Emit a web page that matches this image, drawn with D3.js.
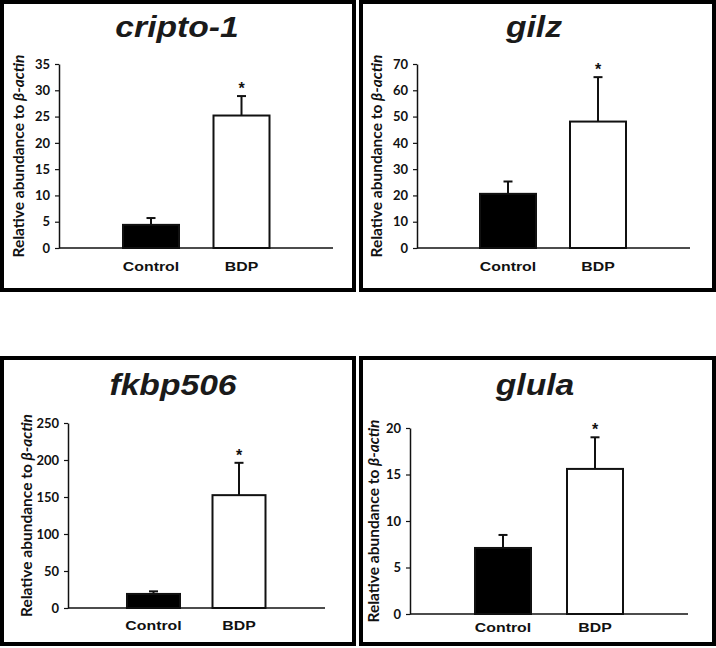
<!DOCTYPE html>
<html>
<head>
<meta charset="utf-8">
<script src="https://cdn.jsdelivr.net/npm/d3@7"></script>
<style>
  html, body { margin: 0; padding: 0; background: #fff; }
  svg { display: block; }
</style>
</head>
<body>
<svg id="chart" width="716" height="648"></svg>
<script>
// ---- data ----
const genes = ["cripto-1", "gilz", "fkbp506", "glula"];
const categories = ["Control", "BDP"];
const controlMean = [4.4, 20.6, 19, 7.1];
const controlSem  = [1.3, 4.7, 3.5, 1.4];
const bdpMean     = [25.2, 48.1, 152.5, 15.6];
const bdpSem      = [3.7, 16.9, 43.7, 3.4];
const yMaxes      = [35, 70, 250, 20];
const yStepSizes  = [5, 10, 50, 5];
const significance = ["*", "*", "*", "*"];
const yLabelMain = "Relative abundance to ";
const yLabelItalic = "β-actin";

// ---- layout (per panel) ----
const layout = [
  { frame: [0, 0, 356, 292],   axisX: 59,  yTop: 64,  yZero: 248, xEnd: 333, centers: [151, 241.5], barW: 56, titleX: 177, titleY: 37,  labelX: 18,  catY: 271 },
  { frame: [359, 0, 716, 292], axisX: 417, yTop: 64,  yZero: 248, xEnd: 690, centers: [508, 598],   barW: 56, titleX: 534, titleY: 37,  labelX: 376, catY: 271 },
  { frame: [0, 356, 356, 646], axisX: 68,  yTop: 423, yZero: 608, xEnd: 325, centers: [153.5, 239], barW: 53, titleX: 173, titleY: 395, labelX: 25.5, catY: 630 },
  { frame: [359, 356, 716, 646], axisX: 410, yTop: 428, yZero: 614, xEnd: 688, centers: [503, 595], barW: 56, titleX: 535, titleY: 395, labelX: 373, catY: 632 }
];

const svg = d3.select("#chart");
const ink = "#111";
const fills = ["#000", "#fff"];

genes.forEach((gene, i) => {
  const L = layout[i];
  const g = svg.append("g");
  const bw = 4;
  // frame
  g.append("rect")
    .attr("x", L.frame[0] + bw / 2).attr("y", L.frame[1] + bw / 2)
    .attr("width", L.frame[2] - L.frame[0] - bw).attr("height", L.frame[3] - L.frame[1] - bw)
    .attr("fill", "#fff").attr("stroke", "#000").attr("stroke-width", bw);

  // title
  g.append("text")
    .attr("transform", `translate(${L.titleX},${L.titleY}) scale(1.16,1)`)
    .attr("text-anchor", "middle")
    .style("font-family", "'Liberation Sans', Arial, sans-serif")
    .style("font-weight", "bold").style("font-style", "italic")
    .style("font-size", "29px").attr("fill", "#1a1a1a")
    .text(gene);

  // scales
  const y = d3.scaleLinear().domain([0, yMaxes[i]]).range([L.yZero, L.yTop]);
  const step = L.centers[1] - L.centers[0];
  const pI = 1 - L.barW / step;
  const x = d3.scaleBand().domain(categories)
    .range([L.centers[0] - step / 2, L.centers[1] + step / 2])
    .paddingInner(pI).paddingOuter(pI / 2);

  const means = [controlMean[i], bdpMean[i]];
  const sems = [controlSem[i], bdpSem[i]];
  const rows = categories.map((c, k) => ({ cat: c, mean: means[k], sem: sems[k], fill: fills[k] }));

  // error bars (upper only)
  const capW = 9;
  rows.forEach(d => {
    const cx = x(d.cat) + x.bandwidth() / 2;
    g.append("line").attr("x1", cx).attr("x2", cx)
      .attr("y1", y(d.mean)).attr("y2", y(d.mean + d.sem))
      .attr("stroke", ink).attr("stroke-width", 2);
    g.append("line").attr("x1", cx - capW / 2).attr("x2", cx + capW / 2)
      .attr("y1", y(d.mean + d.sem)).attr("y2", y(d.mean + d.sem))
      .attr("stroke", ink).attr("stroke-width", 2);
  });

  // bars
  g.selectAll("rect.bar").data(rows).enter().append("rect")
    .attr("class", "bar")
    .attr("x", d => x(d.cat))
    .attr("y", d => y(d.mean))
    .attr("width", x.bandwidth())
    .attr("height", d => y(0) - y(d.mean))
    .attr("fill", d => d.fill)
    .attr("stroke", ink).attr("stroke-width", 2);

  // significance star above BDP
  const bdp = rows[1];
  g.append("text")
    .attr("x", x(bdp.cat) + x.bandwidth() / 2)
    .attr("y", y(bdp.mean + bdp.sem) - 2)
    .attr("text-anchor", "middle")
    .style("font-family", "'Liberation Sans', Arial, sans-serif")
    .style("font-weight", "bold").style("font-size", "16px")
    .attr("fill", ink)
    .text(significance[i]);

  // y axis
  const ticks = d3.range(0, yMaxes[i] + yStepSizes[i] / 2, yStepSizes[i]);
  const yAxis = d3.axisLeft(y).tickValues(ticks).tickSize(4).tickSizeOuter(0).tickPadding(5)
    .tickFormat(d3.format("d"));
  const ya = g.append("g").attr("transform", `translate(${L.axisX},0)`).call(yAxis);
  ya.select(".domain").attr("stroke", ink).attr("stroke-width", 1.5);
  ya.selectAll(".tick line").attr("stroke", ink).attr("stroke-width", 1.2);
  ya.selectAll(".tick text")
    .style("font-family", "Lato, 'Open Sans', sans-serif")
    .style("font-weight", "bold").style("font-size", "13px")
    .attr("fill", ink);

  // x axis baseline
  g.append("line").attr("x1", L.axisX).attr("x2", L.xEnd)
    .attr("y1", L.yZero).attr("y2", L.yZero)
    .attr("stroke", ink).attr("stroke-width", 1.5);

  // category labels
  categories.forEach(c => {
    g.append("text")
      .attr("transform", `translate(${x(c) + x.bandwidth() / 2},${L.catY}) scale(1.22,1)`)
      .attr("text-anchor", "middle")
      .style("font-family", "'Liberation Sans', Arial, sans-serif")
      .style("font-weight", "bold").style("font-size", "13px")
      .attr("fill", ink)
      .text(c);
  });

  // y label
  const yl = g.append("text")
    .attr("transform", `translate(${L.labelX},${(L.yTop + L.yZero) / 2}) rotate(-90)`)
    .attr("text-anchor", "middle")
    .attr("dominant-baseline", "central")
    .style("font-family", "Lato, 'Open Sans', sans-serif")
    .style("font-weight", "bold").style("font-size", "15.5px")
    .attr("fill", ink);
  yl.append("tspan").text(yLabelMain);
  yl.append("tspan").style("font-style", "italic").text(yLabelItalic);
});
</script>
</body>
</html>
